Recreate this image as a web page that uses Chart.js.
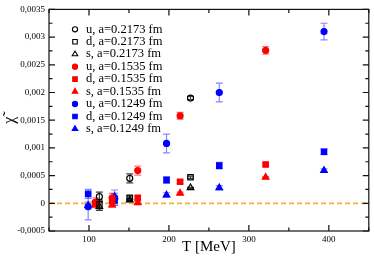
<!DOCTYPE html>
<html><head><meta charset="utf-8">
<script src="https://cdn.jsdelivr.net/npm/chart.js@4/dist/chart.umd.min.js"></script>
<style>html,body{margin:0;padding:0;background:#fff}</style>
</head><body>
<canvas id="c" width="374" height="256" style="width:374px;height:256px;display:block"></canvas>
<script>
// ---- data ----
const T_a2173 = [113, 151, 227];
const u_a2173 = [0.00012, 0.00045, 0.0019];
const u_a2173_err = [0.00008, 0.00008, 0.00003];
const d_a2173 = [-0.00002, 0.0001, 0.00047];
const d_a2173_err = [0.00008, 0.00003, 0.00002];
const s_a2173 = [-0.00006, 0.00006, 0.00028];
const s_a2173_err = [0.00007, 0.00003, 0.00001];

const T_a1535 = [108, 129, 161, 214, 321];
const u_a1535 = [0.00002, 0.0001, 0.00059, 0.00158, 0.00276];
const u_a1535_err = [0.00008, 0.00008, 0.00008, 0.00006, 0.00007];
const d_a1535 = [0.0, 0.00004, 0.0001, 0.00039, 0.0007];
const d_a1535_err = [0.00005, 0.00005, 0.00004, 0.00003, 0.00002];
const s_a1535 = [-0.00003, -0.00003, 0.00001, 0.00018, 0.00047];
const s_a1535_err = [0.00005, 0.00004, 0.00002, 0.00002, 0.00001];

const T_a1249 = [99, 132, 197, 263, 394];
const u_a1249 = [-0.00006, 0.0001, 0.00108, 0.002, 0.0031];
const u_a1249_err = [0.00024, 0.00014, 0.00017, 0.00017, 0.00015];
const d_a1249 = [0.00017, 0.00005, 0.00042, 0.00068, 0.00093];
const d_a1249_err = [0.00008, 0.00008, 0.00006, 0.00006, 0.00005];
const s_a1249 = [-0.00004, 0.00012, 0.00015, 0.00028, 0.00059];
const s_a1249_err = [0.00006, 0.00006, 0.00004, 0.00004, 0.00003];

const seriesLabels = ["u, a=0.2173 fm","d, a=0.2173 fm","s, a=0.2173 fm",
  "u, a=0.1535 fm","d, a=0.1535 fm","s, a=0.1535 fm",
  "u, a=0.1249 fm","d, a=0.1249 fm","s, a=0.1249 fm"];
const zeroLineX = [50, 450];
const zeroLineY = [0, 0];
const xTickLabels = [100, 200, 300, 400];
const yTickValues = [-0.0005, 0, 0.0005, 0.001, 0.0015, 0.002, 0.0025, 0.003, 0.0035];

const SERIF = "'Liberation Serif','DejaVu Serif',serif";
const pts = (xs, ys) => xs.map((x, i) => ({x: x, y: ys[i]}));

function mk(label, xs, ys, errs, style, color, filled, errColor) {
  return {
    label: label, data: pts(xs, ys), errors: errs, errorColor: errColor,
    pointStyle: style,
    pointRadius: style === 'circle' ? 3 : 3.8,
    pointBorderWidth: 1.2,
    borderColor: color, backgroundColor: filled ? color : 'rgba(0,0,0,0)',
    pointBackgroundColor: filled ? color : 'rgba(0,0,0,0)', pointBorderColor: color,
    showLine: false, order: 0
  };
}
const BLK = '#000', RED = '#ff0000', BLU = '#0000ff';
const BLKE = 'rgba(0,0,0,0.75)', REDE = 'rgba(255,60,60,0.7)', BLUE = 'rgba(70,70,255,0.65)';

const datasets = [
  mk(seriesLabels[0], T_a2173, u_a2173, u_a2173_err, 'circle', BLK, false, BLKE),
  mk(seriesLabels[1], T_a2173, d_a2173, d_a2173_err, 'rect', BLK, false, BLKE),
  mk(seriesLabels[2], T_a2173, s_a2173, s_a2173_err, 'triangle', BLK, false, BLKE),
  mk(seriesLabels[3], T_a1535, u_a1535, u_a1535_err, 'circle', RED, true, REDE),
  mk(seriesLabels[4], T_a1535, d_a1535, d_a1535_err, 'rect', RED, true, REDE),
  mk(seriesLabels[5], T_a1535, s_a1535, s_a1535_err, 'triangle', RED, true, REDE),
  mk(seriesLabels[6], T_a1249, u_a1249, u_a1249_err, 'circle', BLU, true, BLUE),
  mk(seriesLabels[7], T_a1249, d_a1249, d_a1249_err, 'rect', BLU, true, BLUE),
  mk(seriesLabels[8], T_a1249, s_a1249, s_a1249_err, 'triangle', BLU, true, BLUE),
  { type: 'line', label: 'zero', data: pts(zeroLineX, zeroLineY), borderColor: 'rgb(247,178,60)',
    borderWidth: 1.8, borderDash: [5, 3], pointRadius: 0, fill: false, order: 10, isZero: true }
];

const errorBars = {
  id: 'errorBars',
  beforeDatasetsDraw(chart) {
    const ctx = chart.ctx, x = chart.scales.x, y = chart.scales.y;
    chart.data.datasets.forEach(ds => {
      if (!ds.errors) return;
      ctx.save();
      ctx.strokeStyle = ds.errorColor; ctx.lineWidth = 1.2;
      ds.data.forEach((p, j) => {
        const e = ds.errors[j];
        const px = x.getPixelForValue(p.x);
        const y1 = y.getPixelForValue(p.y + e), y2 = y.getPixelForValue(p.y - e);
        ctx.beginPath();
        ctx.moveTo(px, y1); ctx.lineTo(px, y2);
        ctx.moveTo(px - 3.5, y1); ctx.lineTo(px + 3.5, y1);
        ctx.moveTo(px - 3.5, y2); ctx.lineTo(px + 3.5, y2);
        ctx.stroke();
      });
      ctx.restore();
    });
  }
};

const frameTicks = {
  id: 'frameTicks',
  afterDatasetsDraw(chart) {
    const ctx = chart.ctx, a = chart.chartArea, x = chart.scales.x, y = chart.scales.y;
    ctx.save();
    ctx.strokeStyle = '#111'; ctx.lineWidth = 1.2;
    ctx.strokeRect(a.left, a.top, a.right - a.left, a.bottom - a.top);
    ctx.beginPath();
    for (let v = 50; v <= 450; v += 50) {
      const px = x.getPixelForValue(v);
      const L = (v % 100 === 0) ? 6 : 3.5;
      ctx.moveTo(px, a.bottom); ctx.lineTo(px, a.bottom - L);
      ctx.moveTo(px, a.top); ctx.lineTo(px, a.top + L);
    }
    for (let k = -2; k <= 14; k++) {
      const v = k * 0.00025;
      const py = y.getPixelForValue(v);
      const L = (k % 2 === 0) ? 6 : 3.5;
      ctx.moveTo(a.left, py); ctx.lineTo(a.left + L, py);
      ctx.moveTo(a.right, py); ctx.lineTo(a.right - L, py);
    }
    ctx.stroke();
    ctx.restore();
  }
};

const legendBox = {
  id: 'legendBox',
  afterDraw(chart) {
    const ctx = chart.ctx;
    const x0 = 75, y0 = 29.3, dy = 12.45;
    ctx.save();
    ctx.textBaseline = 'middle'; ctx.textAlign = 'left';
    chart.data.datasets.forEach((ds, i) => {
      if (ds.isZero) return;
      const yy = y0 + i * dy;
      ctx.fillStyle = ds.pointBackgroundColor; ctx.strokeStyle = ds.pointBorderColor; ctx.lineWidth = 1.1;
      Chart.helpers.drawPoint(ctx, {pointStyle: ds.pointStyle,
        radius: ds.pointStyle === 'circle' ? 2.6 : 3.2, borderWidth: 1.1}, x0, yy);
      ctx.fillStyle = '#000';
      ctx.font = '12.5px ' + SERIF;
      ctx.fillText(ds.label, 86, yy);
    });
    ctx.restore();
  }
};

const fmt = v => {
  const r = Math.round(v * 1e5) / 1e5;
  return String(r).replace('.', ',');
};

new Chart(document.getElementById('c'), {
  type: 'scatter',
  data: { datasets: datasets },
  options: {
    responsive: false, animation: false, devicePixelRatio: 1,
    layout: { padding: { top: 5, right: 2, left: 0, bottom: 0 } },
    plugins: { legend: { display: false }, tooltip: { enabled: false } },
    scales: {
      x: {
        type: 'linear', min: 50, max: 450,
        grid: { display: false, drawTicks: false }, border: { display: false },
        afterBuildTicks: s => { s.ticks = xTickLabels.map(v => ({value: v})); },
        ticks: { autoSkip: false, maxRotation: 0, padding: 3, color: '#000',
          font: { family: SERIF, size: 9 }, callback: v => String(v) },
        title: { display: true, text: 'T [MeV]', color: '#000', padding: 0,
          font: { family: SERIF, size: 15 } },
        afterFit: s => { s.height = 25; }
      },
      y: {
        type: 'linear', min: -0.0005, max: 0.0035,
        grid: { display: false, drawTicks: false }, border: { display: false },
        afterBuildTicks: s => { s.ticks = yTickValues.map(v => ({value: v})); },
        ticks: { autoSkip: false, padding: 4, color: '#000',
          font: { family: SERIF, size: 9 }, callback: v => fmt(v) },
        title: { display: true, text: 'χ̃', color: '#000', padding: 0,
          font: { family: SERIF, size: 16 } },
        afterFit: s => { s.width = 49; }
      }
    }
  },
  plugins: [errorBars, frameTicks, legendBox]
});
</script>
</body></html>
